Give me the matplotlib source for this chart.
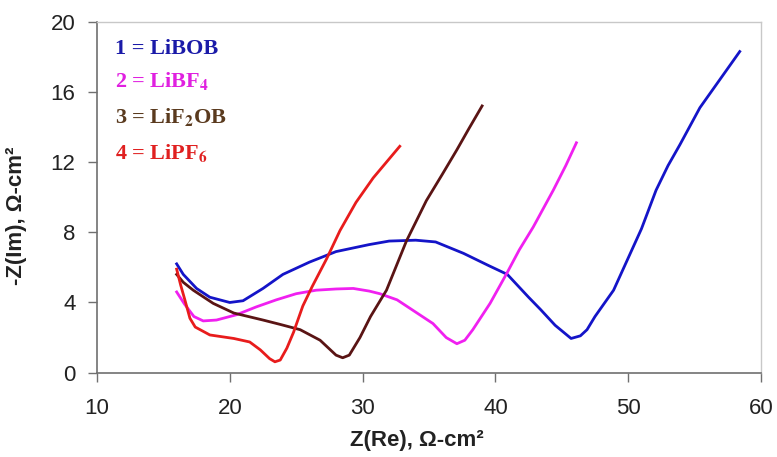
import matplotlib
matplotlib.use("Agg")
import matplotlib.pyplot as plt

# Nyquist curves: Z(Re), -Z(Im) in ohm-cm2
libob_x = [16.0, 16.5, 17.5, 18.5, 20.0, 21.0, 22.5, 24.0, 26.0, 28.0, 30.5, 32.0,
           34.0, 35.5, 37.6, 39.5, 40.9, 42.5, 43.4, 44.5, 45.7, 46.4, 46.9, 47.5,
           48.9, 50.4, 51.0, 52.1, 53.0, 53.9, 55.4, 56.9, 58.4]
libob_y = [6.2, 5.6, 4.8, 4.3, 4.0, 4.1, 4.8, 5.6, 6.3, 6.9, 7.3, 7.5,
           7.55, 7.45, 6.8, 6.1, 5.6, 4.3, 3.6, 2.7, 1.95, 2.1, 2.45, 3.2,
           4.7, 7.2, 8.2, 10.4, 11.8, 13.0, 15.1, 16.7, 18.3]

libf4_x = [16.0, 16.6, 17.3, 18.0, 19.0, 20.5, 22.0, 23.5, 25.0, 26.5, 28.0, 29.3,
           30.5, 31.3, 32.6, 33.8, 35.3, 36.3, 37.1, 37.7, 38.3, 39.6, 40.85, 41.8,
           42.85, 44.36, 45.3, 46.1]
libf4_y = [4.6, 3.9, 3.2, 2.95, 3.0, 3.3, 3.75, 4.15, 4.5, 4.7, 4.77, 4.8,
           4.65, 4.5, 4.15, 3.55, 2.8, 2.0, 1.65, 1.85, 2.45, 3.95, 5.65, 7.0,
           8.3, 10.4, 11.8, 13.1]

lif2ob_x = [16.0, 16.5, 17.25, 18.75, 20.3, 22.5, 23.8, 25.3, 26.8, 28.0, 28.5, 29.0,
            29.8, 30.6, 31.8, 33.3, 34.8, 36.0, 37.1, 38.0, 39.0]
lif2ob_y = [5.6, 5.15, 4.7, 3.95, 3.4, 3.0, 2.75, 2.45, 1.85, 1.0, 0.85, 1.0,
            2.0, 3.2, 4.7, 7.5, 9.8, 11.3, 12.7, 13.9, 15.2]

lipf6_x = [16.0, 16.3, 16.6, 17.0, 17.4, 18.5, 20.3, 21.5, 22.3, 23.0, 23.4, 23.8,
           24.3, 24.8, 25.5, 26.2, 27.3, 28.3, 29.5, 30.8, 32.8]
lipf6_y = [5.9, 5.0, 4.2, 3.1, 2.6, 2.15, 1.95, 1.75, 1.3, 0.8, 0.62, 0.72,
           1.4, 2.3, 3.8, 4.9, 6.5, 8.1, 9.7, 11.1, 12.9]

plt.rcParams["font.family"] = ["Liberation Sans", "DejaVu Sans"]
plt.rcParams["mathtext.fontset"] = "stix"

fig = plt.figure(figsize=(7.77, 4.57), dpi=100)
ax = fig.add_axes([0.1248, 0.1845, 0.8546, 0.768])

ax.plot(libob_x, libob_y, color="#1414c8", lw=2.0)
ax.plot(libf4_x, libf4_y, color="#f020f0", lw=2.0)
ax.plot(lif2ob_x, lif2ob_y, color="#5a1414", lw=2.0)
ax.plot(lipf6_x, lipf6_y, color="#e81c1c", lw=2.0)

ax.set_xlim(10, 60)
ax.set_ylim(0, 20)
ax.set_xticks(range(10, 61, 10))
ax.set_yticks(range(0, 21, 4))
ax.tick_params(direction="out", length=6.5, width=1, color="#707070",
               labelsize=16, labelcolor="#222222")
ax.tick_params(axis="x", pad=12)
ax.tick_params(axis="y", pad=9)

for side in ["left", "bottom"]:
    ax.spines[side].set_color("#707070")
    ax.spines[side].set_linewidth(1.2)
for side in ["top", "right"]:
    ax.spines[side].set_color("#c8c8c8")
    ax.spines[side].set_linewidth(1.0)

ax.set_xlabel("Z(Re), Ω-cm²", fontsize=16, fontweight="bold", color="#222222")
ax.set_ylabel("-Z(Im), Ω-cm²", fontsize=16, fontweight="bold", color="#222222")
ax.xaxis.set_label_coords(0.482, -0.162)
ax.yaxis.set_label_coords(-0.105, 0.446)

labels = ["1 = LiBOB", "2 = LiBF$_\\mathbf{4}$", "3 = LiF$_\\mathbf{2}$OB", "4 = LiPF$_\\mathbf{6}$"]
label_colors = ["#1a1aa8", "#e020e0", "#5a3a1e", "#e02020"]
label_y = [18.16, 16.26, 14.25, 12.16]
for txt, c, yy in zip(labels, label_colors, label_y):
    ax.text(11.36, yy, txt, color=c, fontsize=16, fontweight="bold",
            family=["Liberation Serif"], va="baseline", ha="left")

fig.savefig("out.png", dpi=100)
